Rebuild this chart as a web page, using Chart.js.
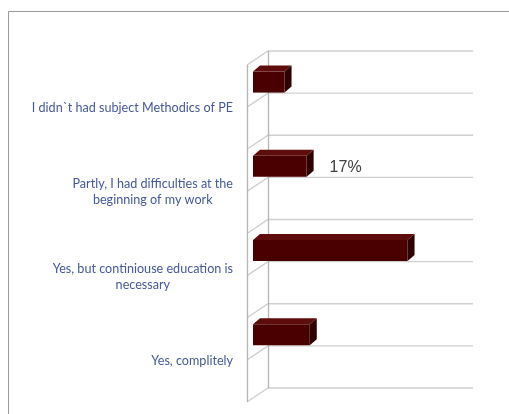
<!DOCTYPE html>
<html>
<head>
<meta charset="utf-8">
<script src="https://cdn.jsdelivr.net/npm/chart.js@4/dist/chart.umd.min.js"></script>
<style>
  html, body { margin: 0; padding: 0; background: #fff; }
  #wrap { width: 509px; height: 414px; position: relative; }
</style>
</head>
<body>
<div id="wrap"><canvas id="surveyChart" width="509" height="414"></canvas></div>
<script>
// answers to the question about the subject Methodics of PE
const answers = [
    ['I didn`t had subject Methodics of PE'],
    ['Partly, I had difficulties at the', 'beginning of my work'],
    ['Yes, but continiouse education is', 'necessary'],
    ['Yes, complitely']
];
const shares = [10, 17, 49, 18];   // % of respondents
const emptySeries = [null, null, null, null];
const shownLabels = ['', '17%', '', ''];

// depth offsets of the 3d box (bar plane -> back wall / front edge)
const BACK = { x: 15, y: -10 };
const FRONT = { x: -6, y: 4 };
const BAR_DEPTH = { x: 7, y: -6 };

// walls + gridlines drawn behind the bars
const walls3d = {
    id: 'walls3d',
    beforeDatasetsDraw(chart) {
        const ctx = chart.ctx;
        const a = chart.chartArea;
        const yScale = chart.scales.y;
        const slot = (a.bottom - a.top) / answers.length;

        ctx.save();
        // frame round the chart
        ctx.strokeStyle = '#9a9a9a';
        ctx.lineWidth = 1;
        ctx.beginPath();
        ctx.moveTo(8.5, 414);
        ctx.lineTo(8.5, 11.5);
        ctx.lineTo(509, 11.5);
        ctx.stroke();

        // horizontal gridlines on the back wall and the side wall
        const lines = [];
        for (let i = 0; i < answers.length; i++) {
            const c = yScale.getPixelForValue(i);
            lines.push(c - slot / 2, c);
        }
        lines.push(a.bottom);

        ctx.strokeStyle = '#cfcfcf';
        ctx.lineWidth = 1.3;
        lines.forEach(y => {
            ctx.beginPath();
            ctx.moveTo(a.left + FRONT.x, y + FRONT.y);
            ctx.lineTo(a.left + BACK.x, y + BACK.y);
            ctx.lineTo(a.right + BACK.x, y + BACK.y);
            ctx.stroke();
        });

        // vertical edges of the side wall
        ctx.strokeStyle = '#b4b4b4';
        ctx.beginPath();
        ctx.moveTo(a.left + BACK.x + 0.5, a.top + BACK.y);
        ctx.lineTo(a.left + BACK.x + 0.5, a.bottom + BACK.y);
        ctx.moveTo(a.left + FRONT.x + 0.5, a.top + FRONT.y);
        ctx.lineTo(a.left + FRONT.x + 0.5, a.bottom + FRONT.y);
        ctx.stroke();

        // category names: each block right aligned, its lines centred
        ctx.fillStyle = '#44589a';
        ctx.font = '12.6px Lato, "Open Sans", sans-serif';
        ctx.textAlign = 'center';
        ctx.textBaseline = 'middle';
        const lineH = 16;
        const rightEdge = a.left - 20;
        answers.forEach((lbl, i) => {
            const w = Math.max(...lbl.map(t => ctx.measureText(t).width));
            const cx = rightEdge - w / 2;
            const cy = yScale.getPixelForValue(i) + 5 - (lbl.length - 1) * lineH / 2;
            lbl.forEach((t, j) => ctx.fillText(t, cx, cy + j * lineH));
        });
        ctx.restore();
    }
};

// top and right faces of each bar + the value label
const boxes3d = {
    id: 'boxes3d',
    afterDatasetsDraw(chart) {
        const ctx = chart.ctx;
        const meta = chart.getDatasetMeta(0);
        ctx.save();
        meta.data.forEach((bar, i) => {
            if (shares[i] == null) return;
            const x0 = bar.base, x1 = bar.x;
            const top = bar.y - bar.height / 2;
            const bottom = bar.y + bar.height / 2;
            const dx = BAR_DEPTH.x, dy = BAR_DEPTH.y;

            // top face
            ctx.fillStyle = '#5e0c0c';
            ctx.beginPath();
            ctx.moveTo(x0, top);
            ctx.lineTo(x0 + dx, top + dy);
            ctx.lineTo(x1 + dx, top + dy);
            ctx.lineTo(x1, top);
            ctx.closePath();
            ctx.fill();

            // right face
            ctx.fillStyle = '#2e0000';
            ctx.beginPath();
            ctx.moveTo(x1, top);
            ctx.lineTo(x1 + dx, top + dy);
            ctx.lineTo(x1 + dx, bottom + dy);
            ctx.lineTo(x1, bottom);
            ctx.closePath();
            ctx.fill();

            if (shownLabels[i]) {
                ctx.fillStyle = '#404040';
                ctx.font = '16px "Liberation Sans", Arial, sans-serif';
                ctx.textAlign = 'left';
                ctx.textBaseline = 'middle';
                ctx.fillText(shownLabels[i], x1 + 23, bar.y + 1);
            }
        });
        ctx.restore();
    }
};

new Chart(document.getElementById('surveyChart'), {
    type: 'bar',
    data: {
        labels: answers,
        datasets: [{
            data: shares,
            backgroundColor: '#4a0000',
            borderWidth: 0,
            categoryPercentage: 1,
            barPercentage: 0.5
        }, {
            data: emptySeries,
            backgroundColor: 'rgba(0,0,0,0)',
            categoryPercentage: 1,
            barPercentage: 0.5
        }]
    },
    options: {
        indexAxis: 'y',
        responsive: false,
        animation: false,
        layout: { padding: { top: 61, bottom: 16, left: 0, right: 51 } },
        plugins: {
            legend: { display: false },
            tooltip: { enabled: false }
        },
        scales: {
            x: {
                display: false,
                min: 0,
                max: 65
            },
            y: {
                grid: { display: false, drawTicks: false },
                border: { display: false },
                afterFit(scale) { scale.width = 253; },
                ticks: { display: false }
            }
        }
    },
    plugins: [walls3d, boxes3d]
});
</script>
</body>
</html>
